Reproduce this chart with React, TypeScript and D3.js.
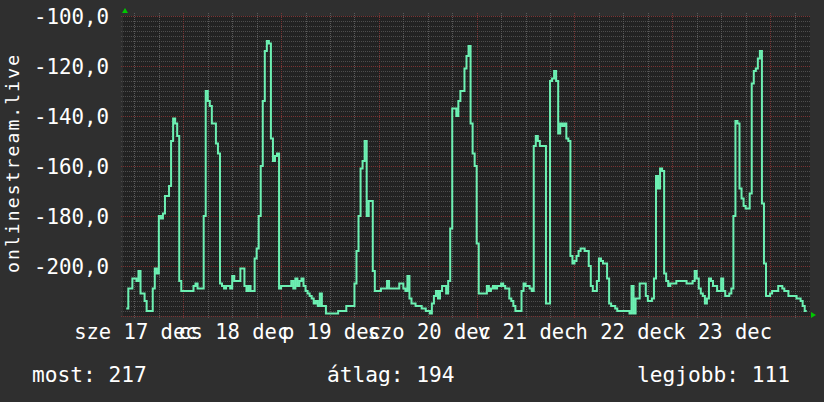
import React from "react";
import * as d3 from "d3";

// ---- data ----
const seriesName = "onlinestream.live";
const seriesStart = "2014-12-16T10:00:00"; // first sample (local time)
const stepMinutes = 30;
const values: number[] = [
  -217, -209, -209, -205, -205, -206, -202, -211, -211, -214, -218, -218, -218, -209, -201, -203, -180, -181, -179, -172, -172, -168, -150, -141,
  -143, -148, -206, -210, -210, -210, -210, -210, -210, -208, -207, -209, -209, -209, -180, -130, -134, -136, -143, -143, -151, -155, -207, -208,
  -209, -208, -208, -209, -204, -206, -206, -206, -201, -201, -208, -210, -208, -210, -210, -197, -193, -180, -160, -134, -114, -110, -111, -149,
  -158, -156, -155, -209, -208, -208, -208, -208, -208, -206, -209, -205, -208, -206, -205, -208, -210, -211, -212, -213, -215, -214, -216, -211,
  -216, -216, -219, -219, -219, -219, -219, -219, -218, -218, -218, -218, -216, -216, -216, -216, -207, -194, -180, -161, -158, -150, -180, -174,
  -174, -202, -210, -210, -210, -209, -209, -209, -206, -209, -209, -209, -209, -209, -207, -207, -209, -210, -204, -213, -215, -215, -216, -216,
  -216, -217, -217, -218, -218, -219, -215, -212, -210, -213, -210, -208, -208, -211, -206, -185, -137, -137, -140, -134, -130, -130, -121, -116,
  -112, -143, -155, -160, -191, -211, -211, -211, -211, -208, -210, -209, -208, -209, -208, -208, -207, -208, -209, -209, -213, -214, -216, -218,
  -218, -218, -210, -207, -208, -208, -209, -210, -152, -148, -150, -152, -152, -152, -215, -215, -126, -125, -122, -126, -147, -143, -144, -143,
  -149, -150, -196, -199, -198, -196, -194, -193, -193, -194, -194, -200, -208, -210, -210, -206, -197, -198, -199, -199, -205, -215, -216, -216,
  -217, -218, -218, -218, -218, -218, -218, -219, -208, -219, -213, -213, -207, -207, -207, -212, -214, -214, -213, -205, -164, -169, -161, -162,
  -203, -206, -208, -207, -207, -207, -206, -206, -206, -206, -206, -207, -207, -207, -206, -202, -205, -209, -211, -212, -215, -213, -205, -206,
  -208, -208, -210, -210, -205, -210, -212, -212, -211, -209, -180, -142, -143, -169, -173, -176, -177, -177, -171, -127, -122, -121, -117, -114,
  -175, -199, -212, -212, -211, -210, -210, -210, -208, -208, -209, -210, -210, -212, -212, -212, -212, -213, -213, -214, -216, -218, -218,
];
const domainStart = "2014-12-16T09:12:00";
const domainEnd = "2014-12-23T09:48:00";
const yDomain = [-220, -100];
const yTicks = [-100, -120, -140, -160, -180, -200];
const dayLabels = ["sze 17 dec", "cs 18 dec", "p 19 dec", "szo 20 dec", "v 21 dec", "h 22 dec", "k 23 dec"];
const legendLabels = ["most", "átlag", "legjobb"];
const legendValues = [217, 194, 111];

// ---- layout / style ----
const W = 824;
const H = 402;
const PL = 123, PR = 810, PT = 16, PB = 316;
const FONT = "'DejaVu Sans Mono', monospace";
const BG = "#2f2f2f";
const CANVAS = "#222222";
const MINOR = "#4d4d4d";
const MAJOR = "#7a3434";
const LINE = "#6cf0b2";
const ARROW = "#00c800";

export default function App() {
  const t0 = new Date(domainStart);
  const t1 = new Date(domainEnd);
  const x = d3.scaleTime().domain([t0, t1]).range([PL, PR]);
  const y = d3.scaleLinear().domain(yDomain).range([PB, PT]);

  const start = new Date(seriesStart);
  const data = values.map((v, i) => ({ t: d3.timeMinute.offset(start, i * stepMinutes), v }));
  const linePath = d3
    .line<{ t: Date; v: number }>()
    .x((d) => x(d.t))
    .y((d) => y(d.v))
    .curve(d3.curveStepAfter)(data) as string;

  const sixHours = d3.timeHour.every(6)!.range(t0, t1);
  const days = d3.timeDay.range(t0, t1);
  const minorX = sixHours.filter((d) => d.getHours() !== 0);
  const yMajor = d3.range(yDomain[0], yDomain[1] + 1, 20);
  const yMinor = d3.range(yDomain[0], yDomain[1] + 1, 2).filter((v) => (v - yDomain[0]) % 20 !== 0);
  // each day label is centred half a day before its day line
  const labelTimes = dayLabels.map((_, i) => d3.timeHour.offset(days[i], -12));

  const fmt = (v: number) => v.toFixed(1).replace(".", ",");

  return (
    <svg
      width={W}
      height={H}
      style={{ position: "absolute", left: 0, top: 0, display: "block" }}
      fontFamily={FONT}
    >
      <rect x={0} y={0} width={W} height={H} fill={BG} />
      <rect x={PL} y={PT} width={PR - PL} height={PB - PT} fill={CANVAS} />

      {/* minor grid */}
      <g stroke={MINOR} strokeWidth={1} strokeDasharray="1,1" shapeRendering="crispEdges">
        {yMinor.map((v) => (
          <line key={"ym" + v} x1={PL - 2} x2={PR} y1={Math.round(y(v)) + 0.5} y2={Math.round(y(v)) + 0.5} />
        ))}
        {minorX.map((d) => (
          <line key={"xm" + +d} x1={Math.round(x(d)) + 0.5} x2={Math.round(x(d)) + 0.5} y1={PT - 3} y2={PB + 2} stroke="#5a5a5a" />
        ))}
      </g>
      {/* major grid */}
      <g stroke={MAJOR} strokeWidth={1} strokeDasharray="1,1" shapeRendering="crispEdges">
        {yMajor.map((v) => (
          <line key={"yM" + v} x1={PL - 2} x2={PR} y1={Math.round(y(v)) + 0.5} y2={Math.round(y(v)) + 0.5} />
        ))}
        {days.map((d) => (
          <line key={"xM" + +d} x1={Math.round(x(d)) + 0.5} x2={Math.round(x(d)) + 0.5} y1={PT - 3} y2={PB + 2} />
        ))}
      </g>

      {/* series */}
      <path d={linePath} fill="none" stroke={LINE} strokeWidth={2} strokeLinejoin="miter" />

      {/* arrows */}
      <path d={`M${PL - 1},${PT - 3} L${PL + 2},${PT - 8} L${PL + 5},${PT - 3} Z`} fill={ARROW} />
      <path d={`M${PR + 1},${PB - 4} L${PR + 6},${PB - 1} L${PR + 1},${PB + 2} Z`} fill={ARROW} />

      {/* y tick labels */}
      <g fill="#ffffff" fontSize={20.8} textAnchor="end">
        {yTicks.map((v) => (
          <text key={"yl" + v} x={109} y={y(v) + 7.5}>
            {fmt(v)}
          </text>
        ))}
      </g>

      {/* x tick labels */}
      <g fill="#ffffff" fontSize={20.5} textAnchor="middle">
        {labelTimes.map((t, i) => (
          <text key={"xl" + i} x={x(t) + 1.5} y={339}>
            {dayLabels[i]}
          </text>
        ))}
      </g>

      {/* y title */}
      <text
        transform={`translate(19, 164) rotate(-90)`}
        fill="#ffffff"
        fontSize={18}
        textAnchor="middle"
        textLength={218}
        lengthAdjust="spacing"
      >
        {seriesName}
      </text>

      {/* legend */}
      <g fill="#ffffff" fontSize={21.2}>
        {legendLabels.map((l, i) => (
          <text key={"lg" + i} x={[32, 327, 637][i]} y={381.5}>
            {`${l}: ${legendValues[i]}`}
          </text>
        ))}
      </g>
    </svg>
  );
}
